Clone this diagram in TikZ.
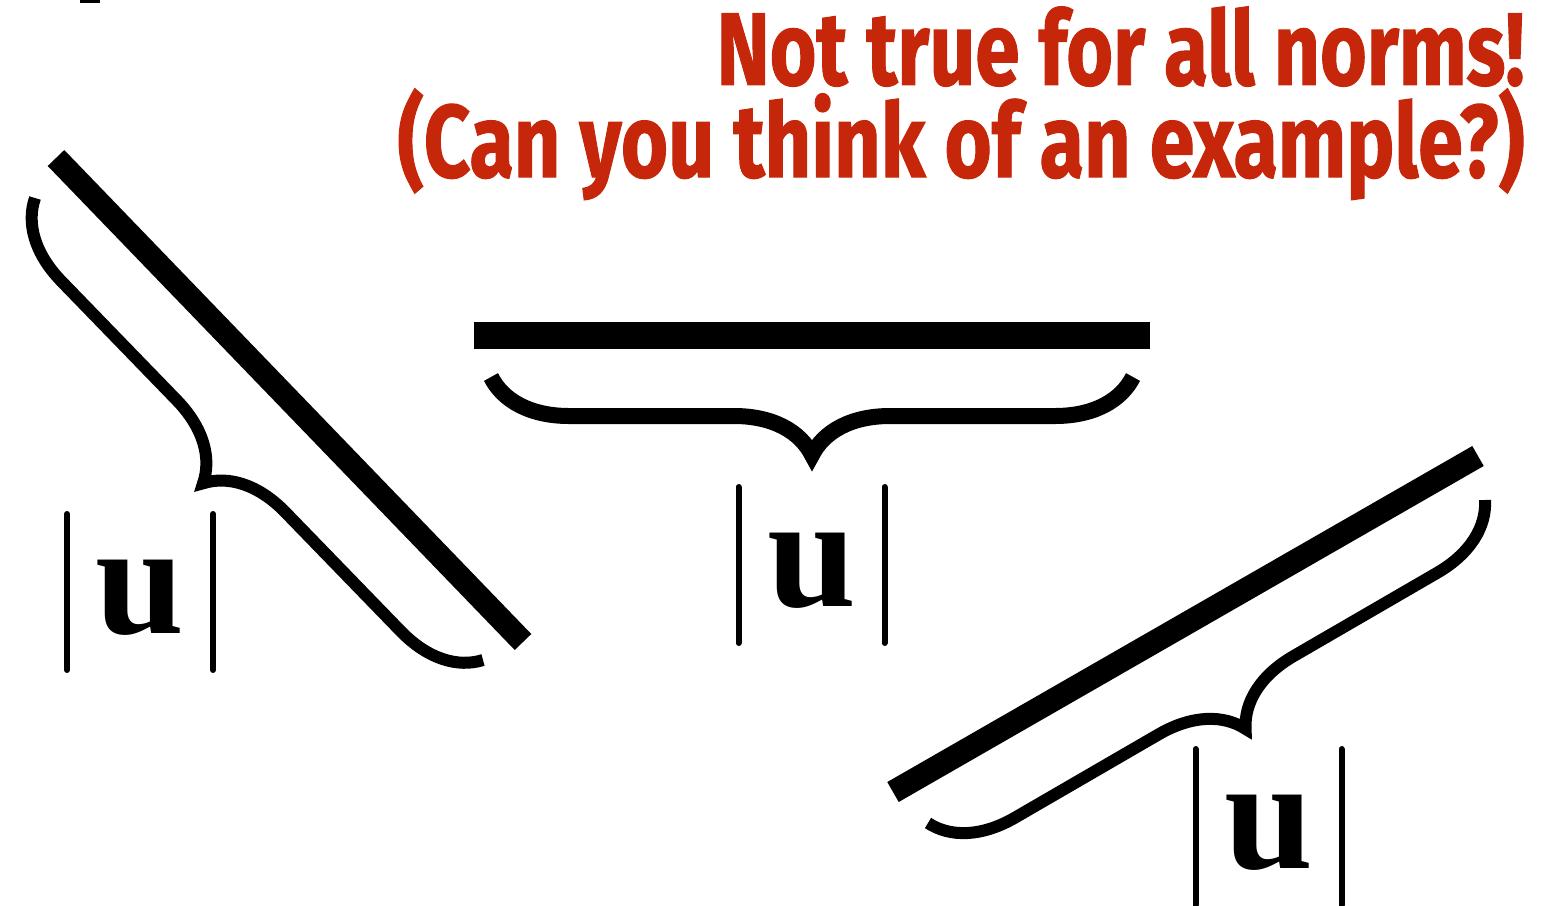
\documentclass[tikz,border=0pt]{standalone}
\usepackage{fontspec}
\usepackage{graphicx}
\usetikzlibrary{calc,decorations.pathreplacing}
\newfontfamily\notefont[BoldFeatures={FakeBold=1.2}]{Fira Sans}
\newfontfamily\labelfont{Liberation Serif}
\definecolor{notered}{RGB}{198,38,10}

\begin{document}
\begin{tikzpicture}[x=0.5pt,y=-0.5pt,
    vec/.style={line width=#1},
    curly/.style={line width=#1,decorate,decoration={brace,amplitude=39pt}},
    lenlabel/.style={anchor=base,inner sep=0pt,font=\labelfont\bfseries\fontsize{80}{80}\selectfont},
    bar/.style={line width=3pt,line cap=round},
    note/.style={anchor=base east,inner sep=0pt,align=right,text=notered,font=\notefont\bfseries\fontsize{51.5}{43}\selectfont}]
  \useasboundingbox (0,0) rectangle (1547,905);
  % cropped mark at the top edge
  \fill (80,0) rectangle (100,3);
  % left vector
  \coordinate (vLa) at (56,158);
  \coordinate (vLb) at (523,642);
  \draw[vec=11.5pt] (vLa) -- (vLb);
  \coordinate (bLa) at (483,660);
  \coordinate (bLb) at (35,198);
  \draw[curly=6pt] (bLa) -- (bLb);
  % middle vector
  \coordinate (vMa) at (474,335.5);
  \coordinate (vMb) at (1150,335.5);
  \draw[vec=13.5pt] (vMa) -- (vMb);
  \coordinate (bMa) at (1133,377);
  \coordinate (bMb) at (491,377);
  \draw[curly=8pt] (bMa) -- (bMb);
  % right vector
  \coordinate (vRa) at (893,792);
  \coordinate (vRb) at (1478,456);
  \draw[vec=11.5pt] (vRa) -- (vRb);
  \coordinate (bRa) at (1485,500);
  \coordinate (bRb) at (928,823);
  \draw[curly=6pt] (bRa) -- (bRb);
  % the length labels
  \foreach \nm/\x/\y in {L/140/633, M/811.5/606, R/1268.5/868}{
    \node[lenlabel] (len\nm) at (\x,\y) {u};
    \draw[bar] ($(len\nm.base)+(-73,-119)$) -- ++(0,156);
    \draw[bar] ($(len\nm.base)+(73,-119)$) -- ++(0,156);
  }
  % the remark
  \node[note] (remark) at (1525,177) {\resizebox{404pt}{\height}{Not true for all norms!}\\
    \resizebox{563.5pt}{\height}{(Can you think of an example?)}};
\end{tikzpicture}
\end{document}
